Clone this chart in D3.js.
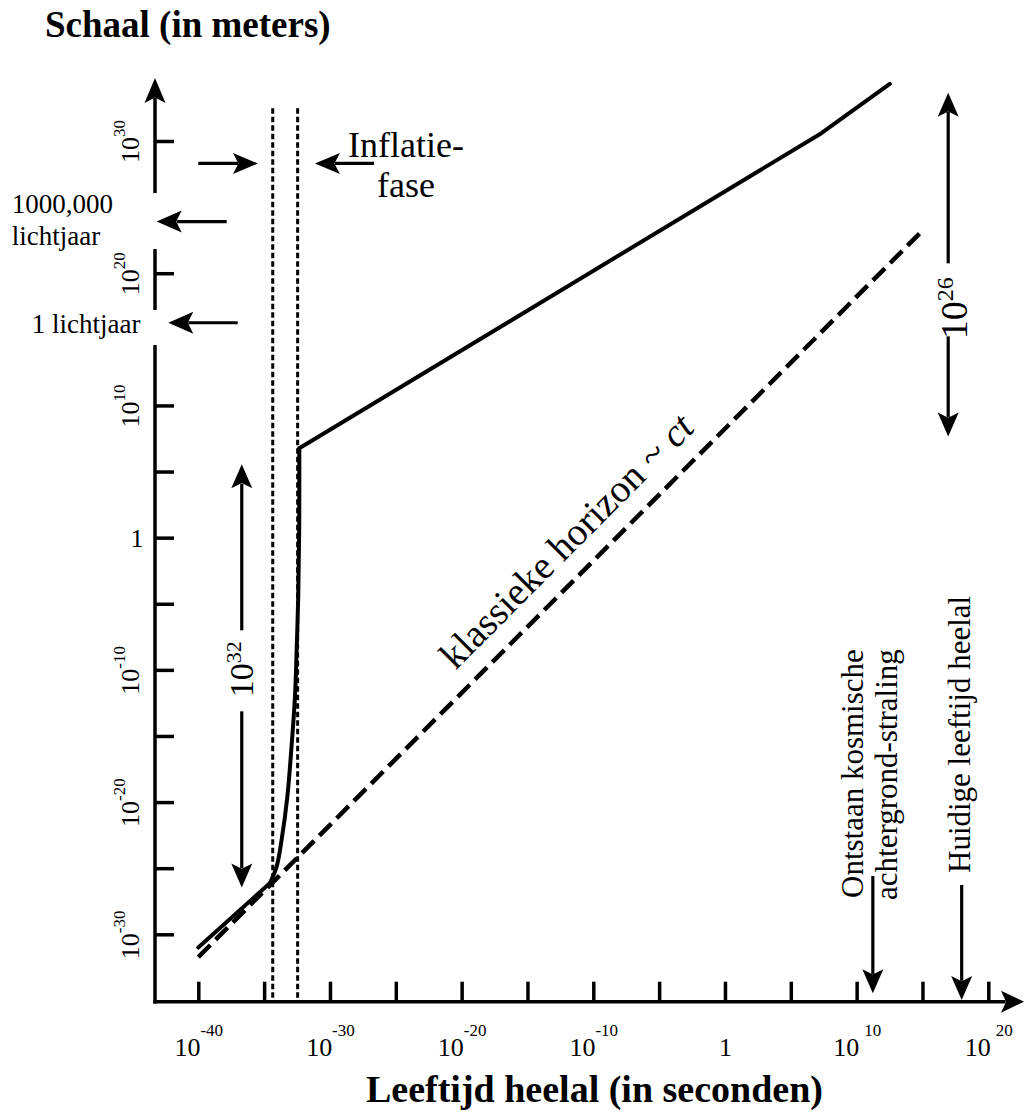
<!DOCTYPE html>
<html>
<head>
<meta charset="utf-8">
<script src="https://cdn.jsdelivr.net/npm/d3@7"></script>
<style>
  html, body { margin: 0; padding: 0; background: #fff; }
  svg { display: block; }
  svg text { font-family: "Liberation Serif", Tinos, "Times New Roman", Times, "Nimbus Roman", "DejaVu Serif", serif; }
</style>
</head>
<body>
<svg id="chart" width="1025" height="1112"></svg>
<script>
// Size of the universe (metres) against its age (seconds), log–log.

// ---- axis ticks -------------------------------------------------------
const timeTicks = [1e-40, 1e-35, 1e-30, 1e-25, 1e-20, 1e-15, 1e-10, 1e-5, 1, 1e5, 1e10, 1e15, 1e20];
const timeTickExps = ["-40", "", "-30", "", "-20", "", "-10", "", "0", "", "10", "", "20"];
const sizeTicks = [1e30, 1e20, 1e10, 1e5, 1, 1e-5, 1e-10, 1e-15, 1e-20, 1e-25, 1e-30];
const sizeTickExps = ["30", "20", "10", "", "0", "", "-10", "", "-20", "", "-30"];

// ---- scale of the universe (solid curve) -----------------------------
const earlyT = [1e-40, 2.8e-35];
const earlyR = [1e-31, 7.6e-27];
const inflationT = [2.8e-35, 8.9e-35, 2.1e-34, 5.8e-34, 1.2e-33, 2.2e-33, 3.0e-33, 3.9e-33, 4.6e-33, 4.7e-33];
const inflationR = [7.6e-27, 1.3e-25, 1.3e-23, 2.6e-20, 1.5e-16, 9.3e-13, 5.6e-9, 3.5e-5, 3.8, 5.8e6];
const lateT = [4.7e-33, 2.1e7, 3.3e12];
const lateR = [5.8e6, 3.9e30, 2.1e34];

// ---- classical horizon ~ ct (dashed line) ----------------------------
const horizonT = [1e-40, 9.3e14];
const horizonR = [1.9e-32, 1.55e23];

// ---- inflation phase boundaries and marked moments (seconds) ---------
const inflationBounds = [4.5e-35, 3.5e-33];
const eventT = [1.7e11, 9.5e17];          // CMB release, present age
const lightYearMarks = [8e23, 1.8e16];    // 1000,000 ly and 1 ly arrows (metres)

// ---- growth brackets ---------------------------------------------------
const bracketExp = [32, 26];
const bracketT = [2e-37, 9e16];
const bracketLow = [3.5e-27, 4.4e7];
const bracketHigh = [3.5e5, 4.4e33];
const bracketLabelR = [1.1e-10, 2.2e17];

// ---- layout -------------------------------------------------------------
const ink = "#000";
const serif = '"Liberation Serif", Tinos, "Times New Roman", Times, "Nimbus Roman", "DejaVu Serif", serif';
const axisX0 = 155;
const axisY0 = 1001.7;

const svg = d3.select("#chart");
const x = d3.scaleLog().domain([1e-40, 1e20]).range([198.3, 988.3]);
const y = d3.scaleLog().domain([1e-30, 1e30]).range([934.3, 141]);

function arrowHead(g, tipX, tipY, ang, len, wid) {
  g.append("path")
    .attr("d", `M0,0 L${-len},${-wid / 2} L${-len * 0.78},0 L${-len},${wid / 2} Z`)
    .attr("transform", `translate(${tipX},${tipY}) rotate(${ang * 180 / Math.PI})`)
    .attr("fill", ink);
}
function arrow(g, x1, y1, x2, y2, opt = {}) {
  const len = opt.len ?? 24, wid = opt.wid ?? 21, sw = opt.sw ?? 3.2;
  const a = Math.atan2(y2 - y1, x2 - x1);
  const bx = x2 - Math.cos(a) * len * 0.8, by = y2 - Math.sin(a) * len * 0.8;
  g.append("line")
    .attr("x1", x1).attr("y1", y1).attr("x2", bx).attr("y2", by)
    .attr("stroke", ink).attr("stroke-width", sw);
  arrowHead(g, x2, y2, a, len, wid);
}
function text(g, str, px, py, size, opt = {}) {
  return g.append("text")
    .attr("x", px).attr("y", py)
    .attr("fill", ink)
    .attr("text-anchor", opt.anchor || "start")
    .attr("font-family", serif)
    .style("font-size", size + "px")
    .style("font-weight", opt.weight || "normal")
    .text(str);
}
function power(sel, exp, supSize, dy, dx) {
  sel.append("tspan").text("10");
  sel.append("tspan").attr("dy", dy).attr("dx", dx).style("font-size", supSize + "px").text(exp);
}

const deco = svg.append("g");

// ---- horizontal axis -----------------------------------------------------
const gx = svg.append("g")
  .attr("transform", `translate(0,${axisY0})`)
  .call(d3.axisBottom(x).tickValues(timeTicks).tickSize(-20).tickFormat(() => ""));
gx.attr("font-family", serif);
gx.select(".domain").remove();
gx.selectAll(".tick line").attr("stroke", ink).attr("stroke-width", 3.5);
gx.selectAll(".tick").each(function (d, i) {
  const e = timeTickExps[i];
  if (e === "") return;
  const t = d3.select(this).append("text")
    .attr("y", 54).attr("fill", ink).attr("text-anchor", "middle")
    .style("font-size", "26px");
  if (e === "0") { t.text("1"); return; }
  power(t, e, 17, -20, e.startsWith("-") ? 0 : 5);
});
arrow(deco, axisX0 - 1.75, axisY0, 1024, axisY0, { sw: 3.5, len: 23, wid: 22 });

// ---- vertical axis (broken where the light-year labels sit) -------------
const gy = svg.append("g")
  .attr("transform", `translate(${axisX0},0)`)
  .call(d3.axisRight(y).tickValues(sizeTicks).tickSize(19).tickFormat(() => ""));
gy.attr("font-family", serif);
gy.select(".domain").remove();
gy.selectAll(".tick line").attr("stroke", ink).attr("stroke-width", 3.5);
gy.selectAll(".tick").each(function (d, i) {
  const e = sizeTickExps[i];
  if (e === "") return;
  if (e === "0") {
    d3.select(this).append("text")
      .attr("x", 137 - axisX0).attr("y", 9).attr("fill", ink).attr("text-anchor", "middle")
      .style("font-size", "26px").text("1");
    return;
  }
  const t = d3.select(this).append("text")
    .attr("transform", `translate(${139.3 - axisX0},0) rotate(-90)`)
    .attr("fill", ink).attr("text-anchor", "middle")
    .style("font-size", "26px");
  power(t, e, 17, -14, 0);
});
const yAxisRuns = [[axisY0 + 1.75, 345], [310, 249]];
yAxisRuns.forEach(([a, b]) => {
  deco.append("line").attr("x1", axisX0).attr("x2", axisX0).attr("y1", a).attr("y2", b)
    .attr("stroke", ink).attr("stroke-width", 3.5);
});
arrow(deco, axisX0, 193, axisX0, 78, { sw: 3.5, len: 25, wid: 21 });

// ---- inflation phase: dotted verticals -----------------------------------
inflationBounds.forEach(t => {
  svg.append("line")
    .attr("x1", x(t)).attr("x2", x(t))
    .attr("y1", y(3e32)).attr("y2", axisY0)
    .attr("stroke", ink).attr("stroke-width", 3)
    .attr("stroke-dasharray", "5.5,3");
});

// ---- classical horizon (dashed) -------------------------------------------
const horizonPts = horizonT.map((t, i) => [t, horizonR[i]]);
svg.append("path")
  .datum(horizonPts)
  .attr("d", d3.line().x(d => x(d[0])).y(d => y(d[1])))
  .attr("fill", "none").attr("stroke", ink).attr("stroke-width", 4.5)
  .attr("stroke-dasharray", "17,7.5");

// ---- scale of the universe (solid) ----------------------------------------
const zip = (ts, rs) => ts.map((t, i) => [t, rs[i]]);
const lineLin = d3.line().x(d => x(d[0])).y(d => y(d[1]));
const lineSmooth = d3.line().x(d => x(d[0])).y(d => y(d[1])).curve(d3.curveCatmullRom.alpha(0.5));
[[zip(earlyT, earlyR), lineLin], [zip(inflationT, inflationR), lineSmooth], [zip(lateT, lateR), lineLin]]
  .forEach(([pts, gen]) => {
    svg.append("path").datum(pts).attr("d", gen)
      .attr("fill", "none").attr("stroke", ink).attr("stroke-width", 4)
      .attr("stroke-linejoin", "round").attr("stroke-linecap", "round");
  });

// ---- horizon label along the dashed line ----------------------------------
{
  const p0 = [x(horizonT[0]), y(horizonR[0])];
  const p1 = [x(horizonT[1]), y(horizonR[1])];
  const ang = Math.atan2(p1[1] - p0[1], p1[0] - p0[0]);
  const f = 0.375, off = 20;
  const ax = p0[0] + f * (p1[0] - p0[0]) + Math.sin(ang) * off;
  const ay = p0[1] + f * (p1[1] - p0[1]) - Math.cos(ang) * off;
  const t = svg.append("text")
    .attr("transform", `translate(${ax},${ay}) rotate(${ang * 180 / Math.PI})`)
    .attr("fill", ink).attr("font-family", serif).style("font-size", "39px");
  t.append("tspan").text("klassieke horizon ~ ");
  t.append("tspan").style("font-style", "italic").text("ct");
}

// ---- titles ------------------------------------------------------------
text(svg, "Schaal (in meters)", 45, 36.5, 37, { weight: "bold" });
text(svg, "Leeftijd heelal (in seconden)", 594.5, 1102, 38, { weight: "bold", anchor: "middle" });

// ---- inflation phase label and pointers -----------------------------------
text(svg, "Inflatie-", 406, 157, 36, { anchor: "middle" });
text(svg, "fase", 406, 196.7, 36, { anchor: "middle" });
arrow(deco, x(1e-40), y(2e28), x(3.4e-36), y(2e28), { len: 25, wid: 21 });
arrow(deco, x(2.2e-27), y(2e28), x(7.2e-32), y(2e28), { len: 25, wid: 21 });

// ---- light-year markers on the vertical axis ------------------------------
text(svg, "1000,000", 11.7, 213, 27);
text(svg, "lichtjaar", 11.7, 245, 27);
text(svg, "1 lichtjaar", 31.7, 333, 27);
arrow(deco, 226.7, y(lightYearMarks[0]), 156.7, y(lightYearMarks[0]), { len: 25, wid: 22 });
arrow(deco, 237.7, y(lightYearMarks[1]), 168.3, y(lightYearMarks[1]), { len: 25, wid: 22 });

// ---- growth brackets (10^32 during inflation, 10^26 since) -----------------
const bracketLayout = [
  { gapTop: 39, gapBottom: 42, labelDx: 11.6, size: 34, sup: 22, dy: -12 },
  { gapTop: 45, gapBottom: 28, labelDx: 18.4, size: 38, sup: 24, dy: -14 }
];
bracketExp.forEach((e, i) => {
  const L = bracketLayout[i];
  const bx = x(bracketT[i]);
  const cy = y(bracketLabelR[i]);
  arrow(deco, bx, cy - L.gapTop, bx, y(bracketHigh[i]), { len: 24, wid: 21 });
  arrow(deco, bx, cy + L.gapBottom, bx, y(bracketLow[i]), { len: 24, wid: 21 });
  const t = deco.append("text")
    .attr("transform", `translate(${bx + L.labelDx},${cy}) rotate(-90)`)
    .attr("fill", ink).attr("text-anchor", "middle")
    .attr("font-family", serif).style("font-size", L.size + "px");
  power(t, String(e), L.sup, L.dy, 0);
});

// ---- marked moments on the time axis ----------------------------------------
const eventLayout = [
  { from: 876, tipGap: 8.4, lines: [["Ontstaan kosmische", -10, 898], ["achtergrond-straling", 24.6, 900]] },
  { from: 885, tipGap: 1.7, lines: [["Huidige leeftijd heelal", 8.3, 873]] }
];
eventT.forEach((t, i) => {
  const L = eventLayout[i];
  const ex = x(t);
  arrow(deco, ex, L.from, ex, axisY0 - L.tipGap, { len: 24, wid: 21 });
  L.lines.forEach(([s, dx, by]) => {
    deco.append("text")
      .attr("transform", `translate(${ex + dx},${by}) rotate(-90)`)
      .attr("fill", ink).attr("font-family", serif).style("font-size", "31px")
      .text(s);
  });
});
</script>
</body>
</html>
